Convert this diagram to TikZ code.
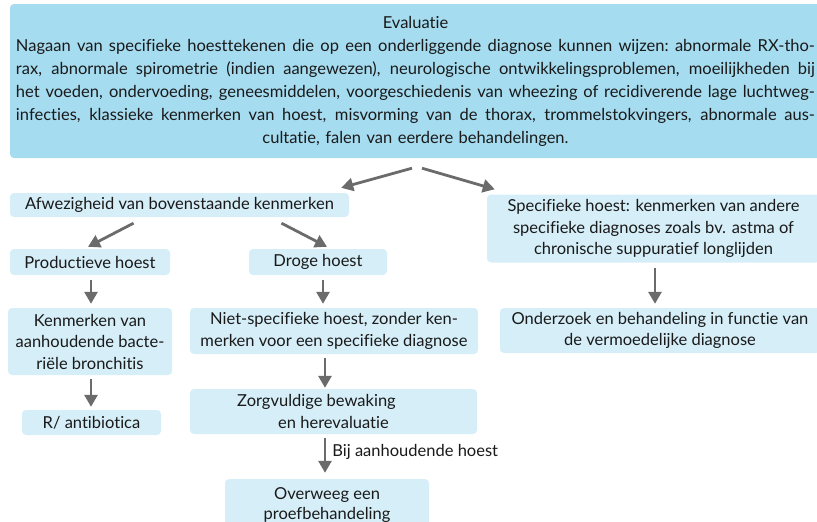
\documentclass[tikz,border=0pt]{standalone}
\usepackage{fontspec}
\setmainfont{Lato}[Ligatures=NoCommon]
\usetikzlibrary{arrows.meta,calc}
\definecolor{topblue}{HTML}{A5DCF0}
\definecolor{boxblue}{HTML}{D5EEF8}
\definecolor{arrgray}{HTML}{6B6B6B}
\definecolor{txt}{HTML}{1A1A1A}
\newcommand\jline[1]{\leavevmode\hbox to 799pt{\spaceskip=0.22em plus 1fil\xspaceskip=\spaceskip #1}}
\begin{document}
\begin{tikzpicture}[x=1pt,y=-1pt,
  every node/.style={font=\fontsize{16.5}{21.5}\selectfont, text=txt},
  box/.style={fill=boxblue, rounded corners=4pt, inner sep=0pt, align=center},
  arr/.style={draw=arrgray, line width=2.8pt, -{Triangle[width=13pt,length=12pt]}},
  lbl/.style={inner sep=0pt, anchor=west}]
\useasboundingbox (0,0) rectangle (817,522);
\clip (0,0) rectangle (817,522);

\node[box, fill=topblue, minimum width=811pt, minimum height=154pt, text width=799pt,
  font=\fontsize{16.5}{23}\selectfont] (top) at (415.5,81) {Evaluatie\\
\jline{Nagaan van specifieke hoesttekenen die op een onderliggende diagnose kunnen wijzen: abnormale RX-tho-}\\
\jline{rax, abnormale spirometrie (indien aangewezen), neurologische ontwikkelingsproblemen, moeilijkheden bij}\\
\jline{het voeden, ondervoeding, geneesmiddelen, voorgeschiedenis van wheezing of recidiverende lage luchtweg-}\\
\jline{infecties, klassieke kenmerken van hoest, misvorming van de thorax, trommelstokvingers, abnormale aus-}\\
cultatie, falen van eerdere behandelingen.};

\node[box, minimum width=339pt, minimum height=24pt] (afw) at (179.5,205) {Afwezigheid van bovenstaande kenmerken};
\node[box, minimum width=333pt, minimum height=68pt] (spec) at (653.5,228.5) {Specifieke hoest: kenmerken van andere\\specifieke diagnoses zoals bv. astma of\\chronische suppuratief longlijden};
\node[box, minimum width=160pt, minimum height=26pt] (prod) at (90,262) {Productieve hoest};
\node[box, minimum width=138pt, minimum height=26pt] (droge) at (318,262) {Droge hoest};
\node[box, minimum width=164pt, minimum height=67pt] (kenm) at (90,341.5) {Kenmerken van\\aanhoudende bacte-\\riële bronchitis};
\node[box, minimum width=288pt, minimum height=46pt] (niet) at (334,331) {Niet-specifieke hoest, zonder ken-\\merken voor een specifieke diagnose};
\node[box, minimum width=320pt, minimum height=45pt] (onder) at (660,330.5) {Onderzoek en behandeling in functie van\\de vermoedelijke diagnose};
\node[box, minimum width=287pt, minimum height=45pt] (zorg) at (333.5,411.5) {Zorgvuldige bewaking\rule{34pt}{0pt}\\en herevaluatie};
\node[box, minimum width=139pt, minimum height=25pt] (rab) at (91.5,422.5) {R/ antibiotica};
\node[box, minimum width=204pt, minimum height=52pt, font=\fontsize{16.5}{20.5}\selectfont] (overw) at (327,505) {Overweeg een\\proefbehandeling};

\draw[arr] ($(top.south)+(-3.5,10)$) -- ($(afw.north east)+(-8,-5)$);
\draw[arr] ($(top.south)+(6.5,10)$) -- ($(spec.north west)+(8,-5)$);
\draw[arr] ($(afw.south)+(-46,6)$) -- ($(prod.north)+(-2,-2)$);
\draw[arr] ($(afw.south)+(102,6)$) -- ($(droge.north)+(9,-2)$);
\draw[arr] ($(prod.south)+(1,5)$) -- ($(kenm.north)+(1,-4)$);
\draw[arr] ($(droge.south)+(5,5)$) -- ($(niet.north)+(-11,-4)$);
\draw[arr] ($(kenm.south)+(1,4)$) -- ($(rab.north)+(-0.5,-3)$);
\draw[arr] ($(niet.south)+(-9,4)$) -- ($(zorg.north)+(-8.5,-1)$);
\draw[arr] ($(zorg.south)+(-8.5,4)$) -- ($(overw.north)+(-2,-6)$)
  node[lbl, pos=0.4, xshift=6pt] (bij) {Bij aanhoudende hoest};
\draw[arr] ($(spec.south)+(1.5,5)$) -- ($(onder.north)+(-5,-4)$);
\end{tikzpicture}
\end{document}
